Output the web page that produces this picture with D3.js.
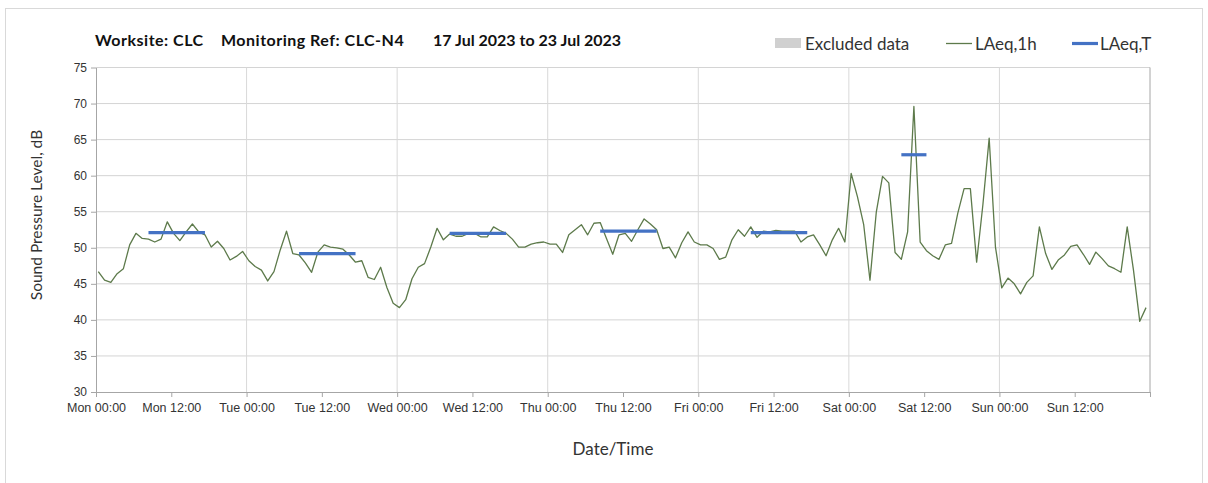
<!DOCTYPE html>
<html>
<head>
<meta charset="utf-8">
<script src="https://cdn.jsdelivr.net/npm/d3@7"></script>
<style>
  html, body { margin: 0; padding: 0; background: #fff; }
  svg { display: block; font-family: Lato, "Open Sans", sans-serif; }
</style>
</head>
<body>
<svg id="chart" width="1208" height="483"></svg>
<script>
// ---- data ----
const titleParts = ["Worksite: CLC", "Monitoring Ref: CLC-N4", "17 Jul 2023 to 23 Jul 2023"];
const legendLabels = ["Excluded data", "LAeq,1h", "LAeq,T"];
const yTicks = [30, 35, 40, 45, 50, 55, 60, 65, 70, 75];
const periodStart = "2023-07-17T00:00:00";
const periodEnd = "2023-07-24T00:00:00";
const firstSample = "2023-07-17T00:22:00";   // hourly samples
const laeq1h = [
  46.7, 45.5, 45.2, 46.4, 47.1, 50.4, 52.0, 51.3, 51.2, 50.8, 51.2, 53.6, 52.0, 51.0, 52.2, 53.3, 52.2, 51.8, 50.1, 50.9, 49.9, 48.3, 48.8, 49.5,
  48.2, 47.4, 46.9, 45.4, 46.7, 49.7, 52.3, 49.2, 49.0, 47.9, 46.6, 49.4, 50.4, 50.1, 50.0, 49.8, 49.0, 48.0, 48.2, 45.9, 45.6, 47.3, 44.5, 42.3,
  41.7, 42.8, 45.7, 47.3, 47.8, 50.1, 52.7, 51.1, 51.9, 51.6, 51.6, 52.0, 52.0, 51.5, 51.5, 52.9, 52.4, 52.0, 51.2, 50.1, 50.1, 50.5, 50.7, 50.8,
  50.5, 50.5, 49.35, 51.8, 52.5, 53.2, 51.8, 53.4, 53.5, 51.3, 49.1, 51.8, 52.0, 50.9, 52.5, 54.0, 53.3, 52.5, 49.9, 50.1, 48.6, 50.7, 52.2, 50.8,
  50.4, 50.4, 49.9, 48.4, 48.7, 51.1, 52.5, 51.6, 52.9, 51.45, 52.3, 52.2, 52.4, 52.3, 52.3, 52.3, 50.8, 51.5, 51.8, 50.4, 48.9, 51.1, 52.7, 50.8,
  60.3, 57.1, 53.2, 45.5, 54.9, 59.9, 59.0, 49.35, 48.4, 52.2, 69.6, 50.8, 49.6, 48.9, 48.4, 50.4, 50.6, 54.8, 58.2, 58.2, 48.0, 56.0, 65.2, 50.1,
  44.45, 45.8, 45.0, 43.6, 45.2, 46.1, 52.9, 49.2, 47.0, 48.3, 49.0, 50.2, 50.4, 49.1, 47.7, 49.4, 48.5, 47.5, 47.1, 46.6, 52.9, 46.9, 39.8, 41.7
];
// LAeq,T periods: first and last hourly sample index, level
const laeqTStart = [8, 32, 56, 80, 104, 128];
const laeqTEnd   = [17, 41, 65, 89, 113, 132];
const laeqTValue = [52.1, 49.2, 52.0, 52.3, 52.1, 62.9];

// ---- layout ----
const svg = d3.select("#chart");
const mLeft = 96, mRight = 1150, mTop = 67.5, mBottom = 392;
const t0 = new Date(periodStart), t1 = new Date(periodEnd), s0 = new Date(firstSample);
const sampleTime = i => d3.timeHour.offset(s0, i);

const x = d3.scaleTime().domain([t0, t1]).range([mLeft, mRight]);
const y = d3.scaleLinear().domain([30, 75]).range([mBottom, mTop]);

// outer frame
svg.append("rect").attr("x", 5.5).attr("y", 8.5).attr("width", 1197).attr("height", 480)
  .attr("fill", "none").attr("stroke", "#d9d9d9");

// horizontal gridlines
svg.append("g").selectAll("line").data(yTicks.filter(v => v > 30)).join("line")
  .attr("x1", mLeft).attr("x2", mRight)
  .attr("y1", d => y(d)).attr("y2", d => y(d))
  .attr("stroke", "#d4d4d4").attr("stroke-width", 1);

// vertical day gridlines
const days = d3.timeDay.range(d3.timeDay.offset(t0, 1), t1);
svg.append("g").selectAll("line").data(days).join("line")
  .attr("x1", d => x(d)).attr("x2", d => x(d))
  .attr("y1", mTop).attr("y2", mBottom)
  .attr("stroke", "#d9d9d9").attr("stroke-width", 1);

// axes
const fmt = d3.timeFormat("%a %H:%M");
const xAxis = d3.axisBottom(x).ticks(d3.timeHour.every(12)).tickFormat(fmt).tickSize(5).tickSizeOuter(0);
const gx = svg.append("g").attr("transform", `translate(0,${mBottom})`).call(xAxis);
gx.select(".domain").attr("stroke", "#a6a6a6");
gx.selectAll(".tick line").attr("stroke", "#a6a6a6");
gx.selectAll(".tick text").attr("fill", "#333").attr("font-size", 12.5).attr("dy", "0.95em")
  .text(function(d){ return +d === +t1 ? "" : fmt(d); });

const yAxis = d3.axisLeft(y).tickValues(yTicks).tickSize(5).tickSizeOuter(0);
const gy = svg.append("g").attr("transform", `translate(${mLeft},0)`).call(yAxis);
gy.select(".domain").attr("stroke", "#a6a6a6");
gy.selectAll(".tick line").attr("stroke", "#a6a6a6");
gy.selectAll(".tick text").attr("fill", "#333").attr("font-size", 12).attr("x", -9);

// right border
svg.append("line").attr("x1", mRight).attr("x2", mRight).attr("y1", mTop).attr("y2", mBottom)
  .attr("stroke", "#a6a6a6");

// LAeq,1h line
const line = d3.line().x((d, i) => x(sampleTime(i))).y(d => y(d));
svg.append("path").datum(laeq1h).attr("d", line)
  .attr("fill", "none").attr("stroke", "#5d7a4b").attr("stroke-width", 1.3)
  .attr("stroke-linejoin", "round");

// LAeq,T segments
svg.append("g").selectAll("line").data(laeqTValue).join("line")
  .attr("x1", (d, i) => x(sampleTime(laeqTStart[i])))
  .attr("x2", (d, i) => x(sampleTime(laeqTEnd[i])))
  .attr("y1", d => y(d)).attr("y2", d => y(d))
  .attr("stroke", "#4472c4").attr("stroke-width", 3.2);

// titles
const tx = [95, 221, 433];
const tls = [0.5, 0.5, 0];
svg.append("g").selectAll("text").data(titleParts).join("text")
  .attr("x", (d, i) => tx[i]).attr("y", 46)
  .attr("font-size", 16).attr("font-weight", "bold").attr("fill", "#111")
  .attr("letter-spacing", (d, i) => tls[i])
  .text(d => d);

svg.append("text").attr("x", 613).attr("y", 455).attr("text-anchor", "middle")
  .attr("font-size", 17).attr("fill", "#333").text("Date/Time");

svg.append("text").attr("transform", "translate(42,215) rotate(-90)").attr("text-anchor", "middle")
  .attr("font-size", 15.5).attr("fill", "#333").text("Sound Pressure Level, dB");

// legend
const lg = svg.append("g");
lg.append("rect").attr("x", 775).attr("y", 38).attr("width", 26).attr("height", 10).attr("fill", "#d0d0d0");
lg.append("line").attr("x1", 946).attr("x2", 972).attr("y1", 43.5).attr("y2", 43.5)
  .attr("stroke", "#5d7a4b").attr("stroke-width", 1.3);
lg.append("line").attr("x1", 1072).attr("x2", 1098).attr("y1", 43.5).attr("y2", 43.5)
  .attr("stroke", "#4472c4").attr("stroke-width", 3.2);
const lx = [805, 975, 1100];
lg.selectAll("text").data(legendLabels).join("text")
  .attr("x", (d, i) => lx[i]).attr("y", 49.5)
  .attr("font-size", 17).attr("fill", "#333").text(d => d);
</script>
</body>
</html>
